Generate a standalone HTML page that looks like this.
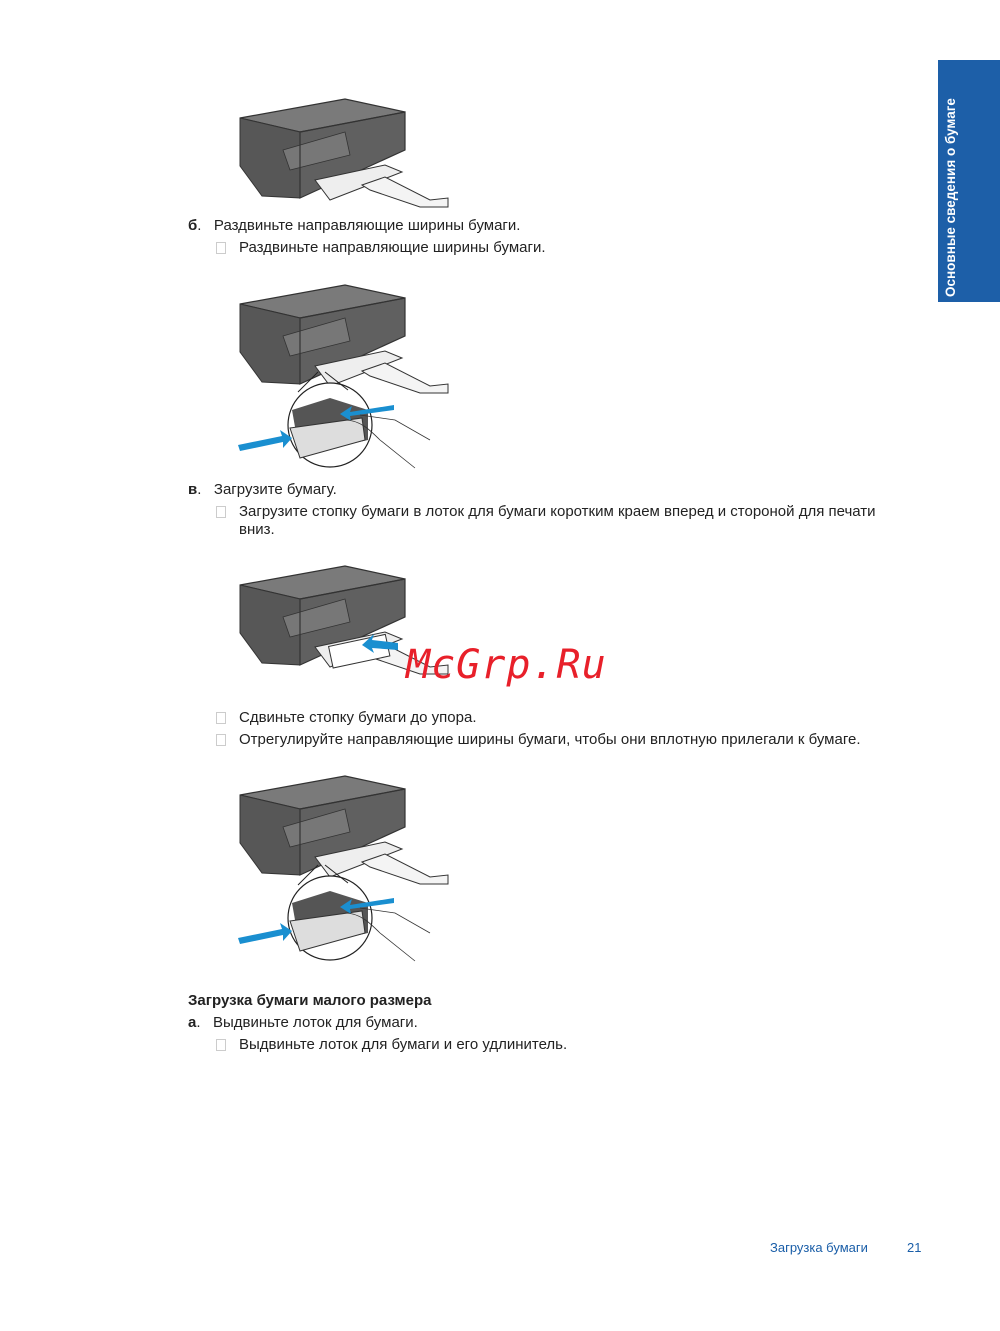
<!DOCTYPE html>
<html><head><meta charset="utf-8"><style>
body{margin:0;width:1000px;height:1331px;background:#fff;position:relative;overflow:hidden;font-family:"Liberation Sans",Arial,sans-serif;color:#222}
.t{position:absolute;font-size:15px;white-space:nowrap;line-height:18px}
.box{position:absolute;width:8px;height:10px;border:1px solid #ccc}
svg{position:absolute;left:0;top:0}
</style></head><body>
<svg width="1000" height="1331">
<defs>
<g id="pr">
<polygon points="240,118 345,99 405,112 405,150 300,198 262,196 240,166" fill="#606060"/>
<polygon points="240,118 345,99 405,112 300,132" fill="#7a7a7a" stroke="#333" stroke-width="1.2"/>
<polygon points="240,118 300,132 300,198 262,196 240,166" fill="#575757" stroke="#333" stroke-width="1"/>
<polygon points="283,150 345,132 350,155 290,170" fill="#777" stroke="#333" stroke-width="0.8"/>
<polygon points="300,132 405,112 405,150 300,198" fill="none" stroke="#333" stroke-width="1.2"/>
<polygon points="315,180 385,165 402,172 330,200" fill="#eee" stroke="#333" stroke-width="1"/>
<polygon points="362,185 385,177 430,200 448,198 448,207 420,207 370,190" fill="#f4f4f4" stroke="#333" stroke-width="1"/>
</g>
<g id="mag">
<circle cx="330" cy="425" r="42" fill="#fff" stroke="#222" stroke-width="1.2"/>
<path d="M292,410 L330,398 L368,410 L368,440 L300,455 Z" fill="#555"/>
<path d="M290,428 L362,418 L365,440 L300,458 Z" fill="#ddd" stroke="#333"/>
<line x1="318" y1="372" x2="298" y2="392" stroke="#222"/>
<line x1="325" y1="372" x2="348" y2="390" stroke="#222"/>
<polygon points="238,445 282,436 280,430 292,438 283,448 283,442 240,451" fill="#1a8fd0"/>
<polygon points="394,405 350,412 352,406 340,414 351,421 350,416 394,410" fill="#1a8fd0"/>
<path d="M345,420 C360,420 370,430 380,440 L415,468 M360,415 L395,420 L430,440" fill="none" stroke="#333" stroke-width="0.8"/>
</g>
</defs>
<use href="#pr"/>
<use href="#pr" y="186"/>
<use href="#mag"/>
<use href="#pr" y="467"/>
<rect x="330" y="640" width="58" height="22" fill="#fff" stroke="#333" transform="rotate(-12 360 650)"/>
<polygon points="398,643 372,640 374,634 362,645 374,653 372,648 398,650" fill="#1a8fd0"/>
<use href="#pr" y="677"/>
<use href="#mag" y="493"/>
</svg>
<div class="t" style="left:188px;top:217px"><b>б</b>.&nbsp;&nbsp; Раздвиньте направляющие ширины бумаги.</div>
<span class="box" style="left:216px;top:242px"></span><div class="t" style="left:239px;top:239px">Раздвиньте направляющие ширины бумаги.</div>
<div class="t" style="left:188px;top:481px"><b>в</b>.&nbsp;&nbsp; Загрузите бумагу.</div>
<span class="box" style="left:216px;top:506px"></span><div class="t" style="left:239px;top:503px">Загрузите стопку бумаги в лоток для бумаги коротким краем вперед и стороной для печати</div>
<div class="t" style="left:239px;top:521px">вниз.</div>
<div class="t" style="left:406px;top:642px;font-size:40px;line-height:46px;color:#e8202a;font-family:'DejaVu Sans Mono',monospace;font-style:italic;letter-spacing:1px">McGrp.Ru</div>
<span class="box" style="left:216px;top:712px"></span><div class="t" style="left:239px;top:709px">Сдвиньте стопку бумаги до упора.</div>
<span class="box" style="left:216px;top:734px"></span><div class="t" style="left:239px;top:731px">Отрегулируйте направляющие ширины бумаги, чтобы они вплотную прилегали к бумаге.</div>
<div class="t" style="left:188px;top:992px;font-weight:bold">Загрузка бумаги малого размера</div>
<div class="t" style="left:188px;top:1014px"><b>а</b>.&nbsp;&nbsp; Выдвиньте лоток для бумаги.</div>
<span class="box" style="left:216px;top:1039px"></span><div class="t" style="left:239px;top:1036px">Выдвиньте лоток для бумаги и его удлинитель.</div>
<div class="t" style="left:770px;top:1239px;font-size:13px;color:#1a5ea8">Загрузка бумаги</div>
<div class="t" style="left:907px;top:1239px;font-size:13px;color:#1a5ea8">21</div>
<div style="position:absolute;left:938px;top:60px;width:62px;height:242px;background:#1d5fa8"></div>
<div style="position:absolute;left:943px;top:297px;transform:rotate(-90deg);transform-origin:0 0;color:#fff;font-weight:bold;font-size:13.5px;white-space:nowrap;line-height:16px;width:240px">Основные сведения о бумаге</div>
</body></html>
